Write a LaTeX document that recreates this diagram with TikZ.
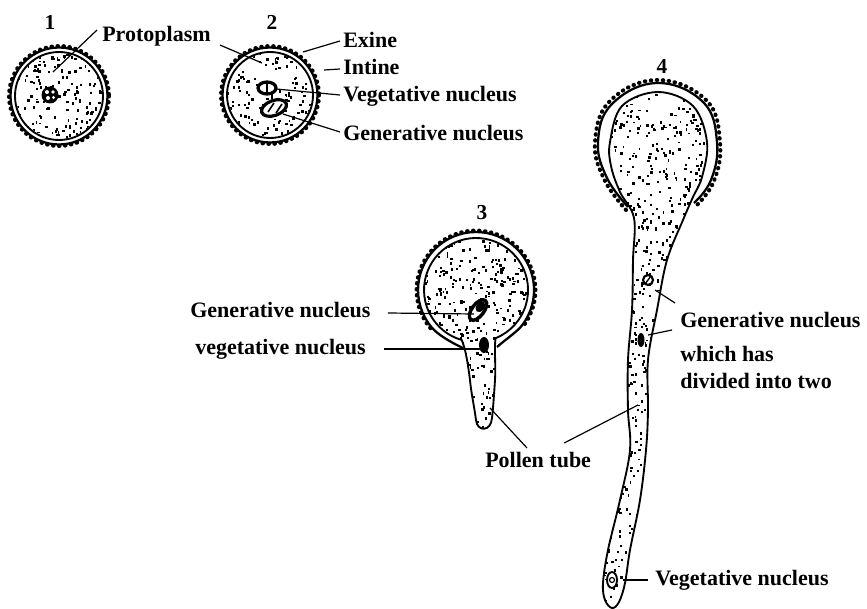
\documentclass[tikz,border=0pt]{standalone}
\usepackage{fontspec}
\setmainfont{Liberation Serif}
\usetikzlibrary{calc}

% random stipple of small specks inside a box: x0, y0, width, height, count
\newcommand\pollenDots[5]{%
  \foreach \k in {1,...,#5}{%
    \pgfmathsetmacro\dotx{#1+#3*rnd}%
    \pgfmathsetmacro\doty{#2+#4*rnd}%
    \pgfmathsetmacro\dotw{1.5+1.4*rnd}%
    \pgfmathsetmacro\doth{1.5+1.8*rnd}%
    \fill (\dotx,\doty) rectangle ++(\dotw,\doth);
  }}

\begin{document}
\begin{tikzpicture}[x=0.75pt,y=-0.75pt,
  lbl/.style={font=\bfseries\fontsize{16.5}{20}\selectfont, inner sep=0pt, anchor=west},
  num/.style={font=\bfseries\fontsize{16}{19}\selectfont, inner sep=0pt},
  exine/.style={line width=1.7pt},
  knobs/.style={line width=3pt, line cap=round, dash pattern=on 0.4pt off 4.1pt},
  intine/.style={line width=1.4pt},
  leader/.style={line width=0.9pt},
]
\fill[white] (0,0) rectangle (867,609);
\useasboundingbox (0,0) rectangle (867,609);
\pgfmathsetseed{17}

% ---------- grain 1: young pollen grain ----------
\begin{scope}
  \clip (59,96) circle[radius=43];
  \pollenDots{15}{52}{88}{88}{170}
\end{scope}
\draw[exine] (59,96) circle[radius=48.5];
\draw[knobs] (59,96) circle[radius=50];
\draw[intine] (59,96) circle[radius=44];
\fill (50,95) circle[radius=8.5];
\fill[white] (47,92) circle[radius=2] (53,92) circle[radius=1.8] (48,98) circle[radius=2] (53.5,97.5) circle[radius=1.6];
\coordinate (pp1) at (53,72);

% ---------- grain 2: two nuclei ----------
\begin{scope}
  \clip (270,95) circle[radius=42];
  \pollenDots{226}{51}{88}{88}{160}
\end{scope}
\draw[exine] (270,95) circle[radius=47.5];
\draw[knobs] (270,95) circle[radius=49];
\draw[intine] (270,95) circle[radius=43];
\draw[line width=2.4pt, fill=white] (267,88) ellipse[x radius=9, y radius=6];
\draw[line width=1.2pt] (267,83) -- (267,93);
\draw[line width=2.4pt, fill=white, rotate around={20:(274,108)}] (274,108) ellipse[x radius=13, y radius=7.5];
\draw[line width=1.2pt] (268,112) -- (274,103) (276,113) -- (282,104);
\coordinate (pp2) at (262,63);
\coordinate (exTip) at (303,52);
\coordinate (inTip) at (324,70);
\coordinate (vg2Tip) at (276,89);
\coordinate (gn2Tip) at (283,114);

% ---------- grain 3: germinating, short tube ----------
\begin{scope}
  \clip (461.7,340) arc[start angle=106, end angle=428, radius=52]
    .. controls (494,350) and (496,365) .. (495,380)
    .. controls (494,395) and (493,410) .. (492,418)
    .. controls (491,432) and (477,432) .. (476,420)
    .. controls (474,405) and (471,392) .. (470,380)
    .. controls (468,365) and (466,350) .. cycle;
  \pollenDots{424}{238}{104}{104}{240}
  \pollenDots{460}{335}{40}{95}{70}
\end{scope}
\draw[intine] (461.7,340) arc[start angle=106, end angle=428, radius=52]
    .. controls (494,350) and (496,365) .. (495,380)
    .. controls (494,395) and (493,410) .. (492,418)
    .. controls (491,432) and (477,432) .. (476,420)
    .. controls (474,405) and (471,392) .. (470,380)
    .. controls (468,365) and (466,350) .. cycle;
\draw[exine] (463,348) .. controls (450,342) and (437,334) .. (431.6,327.3)
    arc[start angle=140, end angle=400, radius=58]
    .. controls (514,334) and (505,340) .. (497,347);
\draw[knobs] (476,290) ++(140:59.5) arc[start angle=140, end angle=400, radius=59.5];
\draw[line width=2.6pt, fill=white, rotate around={53:(478,310)}] (478,310) ellipse[x radius=12, y radius=6];
\fill[rotate around={53:(478,310)}] (482,310) ellipse[x radius=6, y radius=4];
\fill (484,345) ellipse[x radius=5, y radius=8];
\coordinate (gn3Tip) at (474,314);
\coordinate (vg3Tip) at (480,349);
\coordinate (pt3Tip) at (490,408);

% ---------- grain 4: long pollen tube ----------
\begin{scope}
  \clip plot[smooth cycle, tension=0.6] coordinates {
    (658,92) (693,106) (707,142) (702,177) (693,197) (683,220) (667,260)
    (657,310) (648,360) (648,410) (646,450) (640,500) (630,550) (625,583)
    (619,602) (612,608) (605,600) (603,583) (608,550) (620,500) (630,450)
    (628,410) (628,360) (632,310) (633,260) (634,218) (620,192) (611,166)
    (610,142) (622,106)};
  \pollenDots{606}{90}{104}{170}{330}
  \pollenDots{598}{258}{62}{352}{380}
\end{scope}
\draw[intine] plot[smooth cycle, tension=0.6] coordinates {
    (658,92) (693,106) (707,142) (702,177) (693,197) (683,220) (667,260)
    (657,310) (648,360) (648,410) (646,450) (640,500) (630,550) (625,583)
    (619,602) (612,608) (605,600) (603,583) (608,550) (620,500) (630,450)
    (628,410) (628,360) (632,310) (633,260) (634,218) (620,192) (611,166)
    (610,142) (622,106)};
\draw[exine] plot[smooth, tension=0.7] coordinates {
    (628,207) (607,178) (598,142) (612,104) (657,83) (703,102) (717,142) (711,180) (694,203)};
\draw[knobs] plot[smooth, tension=0.7] coordinates {
    (626,210) (604,179) (595,142) (610,101) (657,80) (706,100) (720,142) (714,181) (696,206)};
\draw[line width=1.6pt, fill=white] (648,280) circle[radius=5];
\draw[line width=1pt] (645,284) -- (651,276);
\fill (641,340) ellipse[x radius=3.5, y radius=7];
\draw[line width=1.4pt, fill=white] (612,580) ellipse[x radius=5, y radius=8];
\draw[line width=0.9pt] (612,580) circle[radius=2.5];
\coordinate (gn4Tip) at (655,290);
\coordinate (gn4bTip) at (648,335);
\coordinate (pt4Tip) at (638,405);
\coordinate (vg4Tip) at (623,580);

% ---------- numbers ----------
\node[num] (n1) at (50,22) {1};
\node[num] (n2) at (272,22) {2};
\node[num] (n3) at (482,213) {3};
\node[num] (n4) at (662,66) {4};

% ---------- labels ----------
\node[lbl] (proto) at (102,36) {Protoplasm};
\node[lbl] (exi) at (343,40) {Exine};
\node[lbl] (inti) at (343,67) {Intine};
\node[lbl] (veg2) at (343,96) {Vegetative nucleus};
\node[lbl] (gen2) at (343,133) {Generative nucleus};
\node[lbl] (gen3) at (190,310) {Generative nucleus};
\node[lbl] (veg3) at (195,349) {vegetative nucleus};
\node[lbl] (ptube) at (485,460) {Pollen tube};
\node[lbl] (gen4) at (680,320) {Generative nucleus};
\node[lbl] (gen4b) at (680,354) {which has};
\node[lbl] (gen4c) at (680,381) {divided into two};
\node[lbl] (veg4) at (655,580) {Vegetative nucleus};

% ---------- leader lines ----------
\draw[leader] (proto.west) ++(-5,-6) -- (pp1);
\draw[leader] (proto.east) ++(9,9) -- (pp2);
\draw[leader] (exi.west) ++(-3,1) -- (exTip);
\draw[leader] (inti.west) ++(-3,2) -- (inTip);
\draw[leader] (veg2.west) ++(-3,-1) -- (vg2Tip);
\draw[leader] (gen2.west) ++(-3,-1) -- (gn2Tip);
\draw[leader] (gen3.east) ++(17,3) -- (gn3Tip);
\draw[leader] (veg3.east) ++(18,0) -- (vg3Tip);
\draw[leader] (ptube.north west) ++(42,-4) -- (pt3Tip);
\draw[leader] (ptube.north east) ++(-27,-9) -- (pt4Tip);
\draw[leader] (gen4.west) ++(-5,-17) -- (gn4Tip);
\draw[leader] (gen4b.west) ++(-8,-24) -- (gn4bTip);
\draw[leader] (veg4.west) ++(-7,0) -- (vg4Tip);
\end{tikzpicture}
\end{document}
